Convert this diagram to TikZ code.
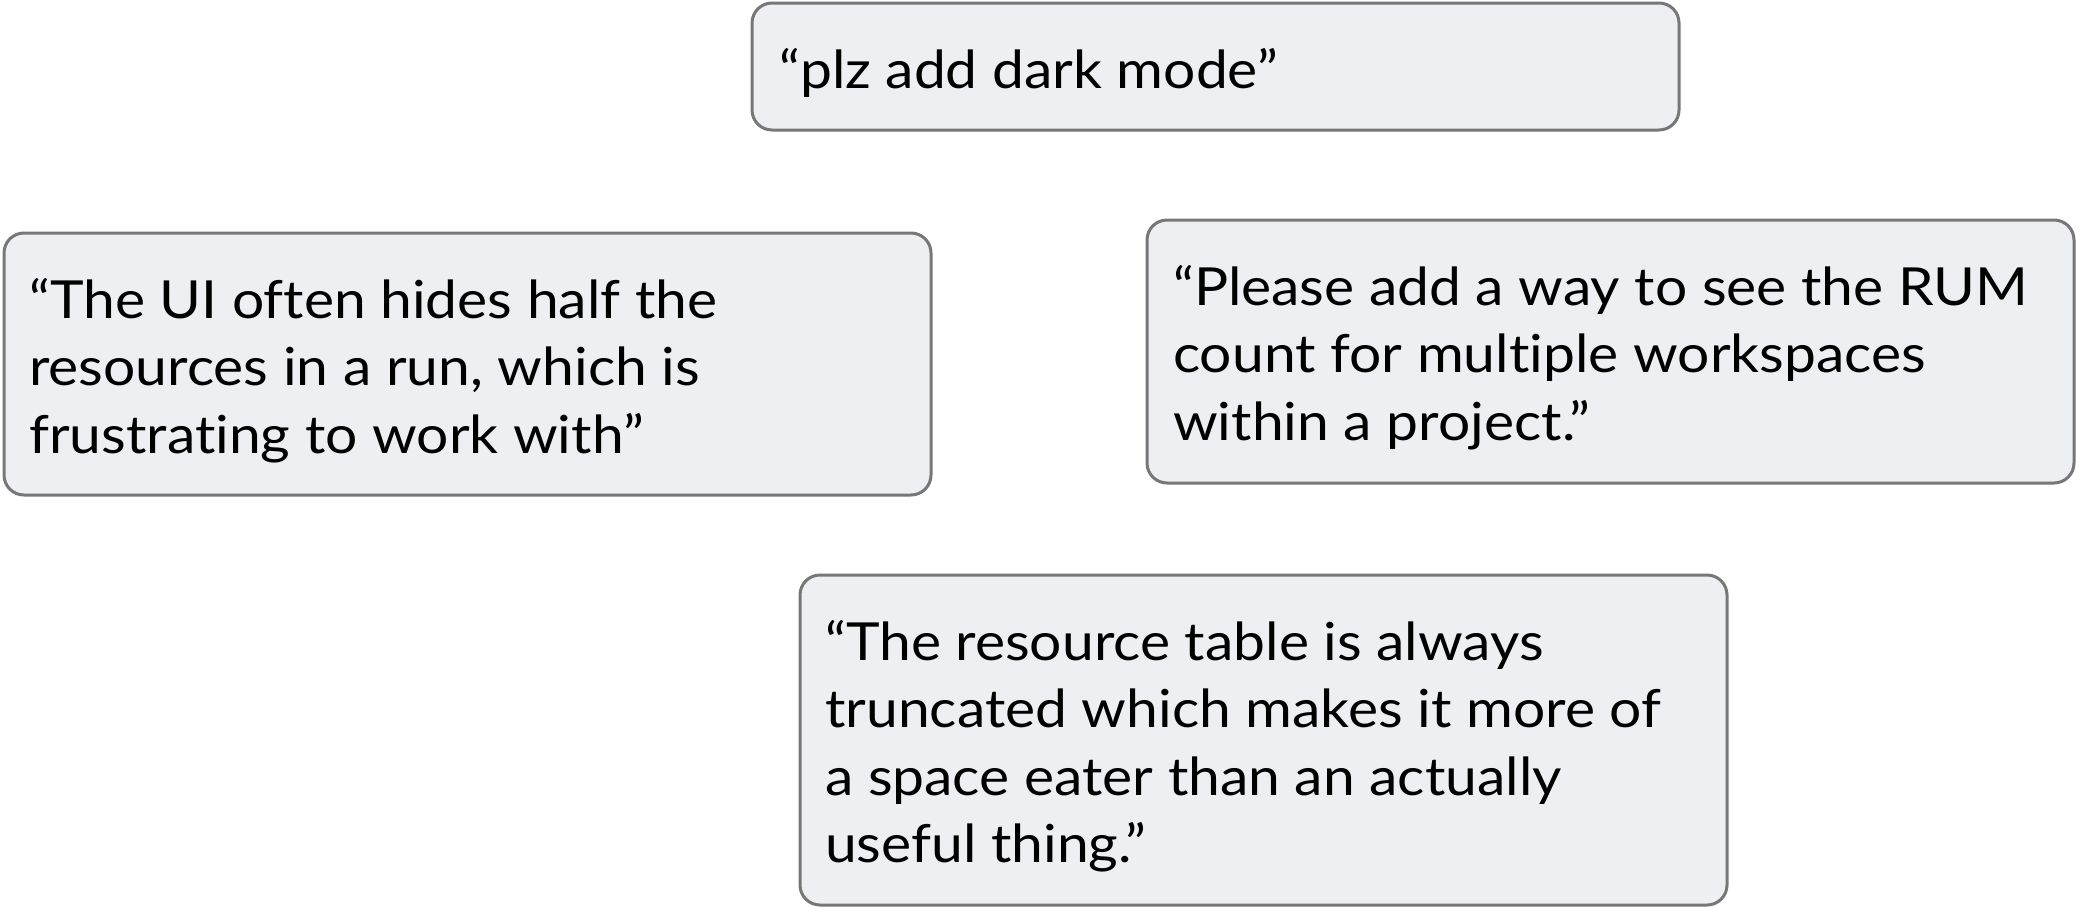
\documentclass[tikz,border=0pt]{standalone}
\usepackage{fontspec}
\setmainfont[FakeStretch=1.085, Ligatures={NoCommon}]{Lato}
\definecolor{boxfill}{HTML}{EEEFF3}
\definecolor{boxdraw}{HTML}{777777}
\begin{document}
\begin{tikzpicture}[x=1pt,y=-1pt,
  quotebox/.style={draw=boxdraw, fill=boxfill, line width=3pt, rounded corners=20pt,
    minimum width=927pt, inner sep=0pt, anchor=north west},
  quotetext/.style={anchor=base west, inner sep=0pt, text=black,
    font=\fontsize{52.5}{67.5}\selectfont}]
\useasboundingbox (0,0) rectangle (2076,908);
% boxes
\node[quotebox, minimum height=127pt] (b1) at (750.5,1.5) {};
\node[quotebox, minimum height=262pt] (b2) at (2.5,231.5) {};
\node[quotebox, minimum height=263pt] (b3) at (1145.5,218.5) {};
\node[quotebox, minimum height=330pt] (b4) at (798.5,573.5) {};
% texts
\node[quotetext] (t1) at (779,88) {“plz add dark mode”};
\node[quotetext] (t2) at (29,318) {\begin{tabular}[t]{@{}l@{}}“The UI often hides half the\\resources in a run, which is\\frustrating to work with”\end{tabular}};
\node[quotetext] (t3) at (1173,305) {\begin{tabular}[t]{@{}l@{}}“Please add a way to see the RUM\\count for multiple workspaces\\within a project.”\end{tabular}};
\node[quotetext] (t4) at (825,660) {\begin{tabular}[t]{@{}l@{}}“The resource table is always\\truncated which makes it more of\\a space eater than an actually\\useful thing.”\end{tabular}};
\end{tikzpicture}
\end{document}
